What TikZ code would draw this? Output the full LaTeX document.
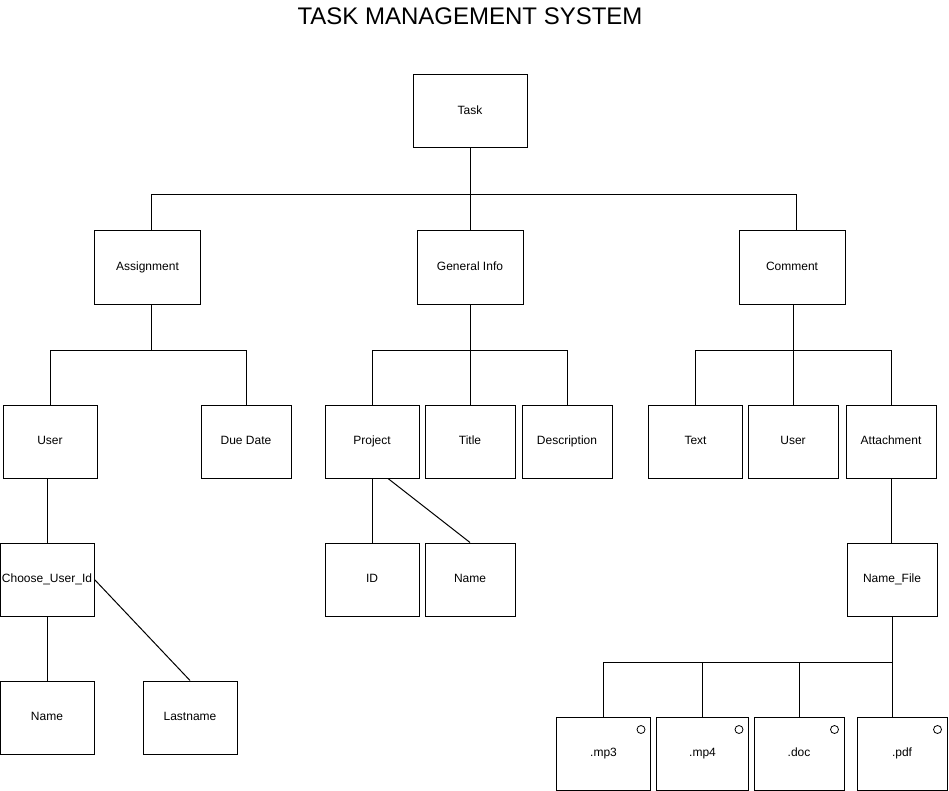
\documentclass[tikz,border=0pt]{standalone}
\usepackage{fontspec}
\setmainfont{Liberation Sans}
\usepackage{tikz}
\usetikzlibrary{calc}

\tikzset{
  box/.style={draw,line width=1pt,inner sep=0pt,minimum height=73pt,text height=8.6pt,text depth=2.4pt,font=\fontsize{12}{14}\selectfont},
  link/.style={line width=1pt},
  tag/.style={draw,line width=0.8pt,circle,inner sep=0pt,minimum size=8pt}
}

\begin{document}
\begin{tikzpicture}[x=1pt,y=-1pt]
        \useasboundingbox (0,0) rectangle (949,791);
        \node (head) at (470,16) {\fontsize{24}{28}\selectfont TASK MANAGEMENT SYSTEM};
        % top levels
        \node[box,minimum width=114pt] (task) at (470,111.5) {Task};
        \node[box,minimum width=106pt] (assign) at (147.5,267.5) {Assignment};
        \node[box,minimum width=106pt] (ginfo) at (470,267.5) {General Info};
        \node[box,minimum width=106pt] (comment) at (792,267.5) {Comment};
        % third row
        \node[box,minimum width=94pt] (user1) at (50,441.5) {User};
        \node[box,minimum width=90pt] (duedate) at (246,441.5) {Due Date};
        \node[box,minimum width=94pt] (project) at (372,441.5) {Project};
        \node[box,minimum width=90pt] (title) at (470,441.5) {Title};
        \node[box,minimum width=90pt] (descr) at (567,441.5) {Description};
        \node[box,minimum width=94pt] (text) at (695.5,441.5) {Text};
        \node[box,minimum width=90pt] (user2) at (793,441.5) {User};
        \node[box,minimum width=90pt] (attach) at (891,441.5) {Attachment};
        % fourth row
        \node[box,minimum width=94pt] (choose) at (47,579.5) {Choose\_User\_Id};
        \node[box,minimum width=94pt] (id) at (372,579.5) {ID};
        \node[box,minimum width=90pt] (name2) at (470,579.5) {Name};
        \node[box,minimum width=90pt] (namefile) at (892,579.5) {Name\_File};
        \node[box,minimum width=94pt] (name3) at (47,717.5) {Name};
        \node[box,minimum width=94pt] (lastname) at (190,717.5) {Lastname};
        % file types
        \node[box,minimum width=94pt] (mp3) at (603.5,753.5) {.mp3};
        \node[box,minimum width=92pt] (mp4) at (702.5,753.5) {.mp4};
        \node[box,minimum width=90pt] (doc) at (799,753.5) {.doc};
        \node[box,minimum width=90pt] (pdf) at (902,753.5) {.pdf};
        \foreach \f in {mp3,mp4,doc,pdf}
          \node[tag] (\f-tag) at ([shift={(-10pt,-13pt)}]\f.north east) {};

        \draw[link] (task.south) -- ++(0,46) -| ([xshift=4pt]assign.north);
        \draw[link] (task.south) -- ++(0,46) -| ([xshift=4pt]comment.north);
        \draw[link] (task.south) -- (ginfo.north);
        \draw[link] ([xshift=4pt]assign.south) -- ++(0,46) -| (user1.north);
        \draw[link] ([xshift=4pt]assign.south) -- ++(0,46) -| (duedate.north);
        \draw[link] (ginfo.south) -- ++(0,46) -| (project.north);
        \draw[link] (ginfo.south) -- ++(0,46) -| (descr.north);
        \draw[link] (ginfo.south) -- (title.north);
        \draw[link] ([xshift=1pt]comment.south) -- ++(0,46) -| (text.north);
        \draw[link] ([xshift=1pt]comment.south) -- ++(0,46) -| (attach.north);
        \draw[link] ([xshift=1pt]comment.south) -- (user2.north);
        \draw[link] (user1.south -| choose.north) -- (choose.north);
        \draw[link] (choose.south) -- (name3.north);
        \draw[link] (choose.east) -- (lastname.north);
        \draw[link] (project.south) -- (id.north);
        \draw[link] ([xshift=16pt]project.south) -- (name2.north);
        \draw[link] (attach.south) -- (namefile.north -| attach.south);
        \draw[link] (namefile.south) -- ++(0,46) -| (mp3.north);
        \draw[link] (namefile.south) -- ++(0,46) -| (mp4.north);
        \draw[link] (namefile.south) -- ++(0,46) -| (doc.north);
        \draw[link] (namefile.south) -- (namefile.south |- pdf.north);
      \end{tikzpicture}
\end{document}
